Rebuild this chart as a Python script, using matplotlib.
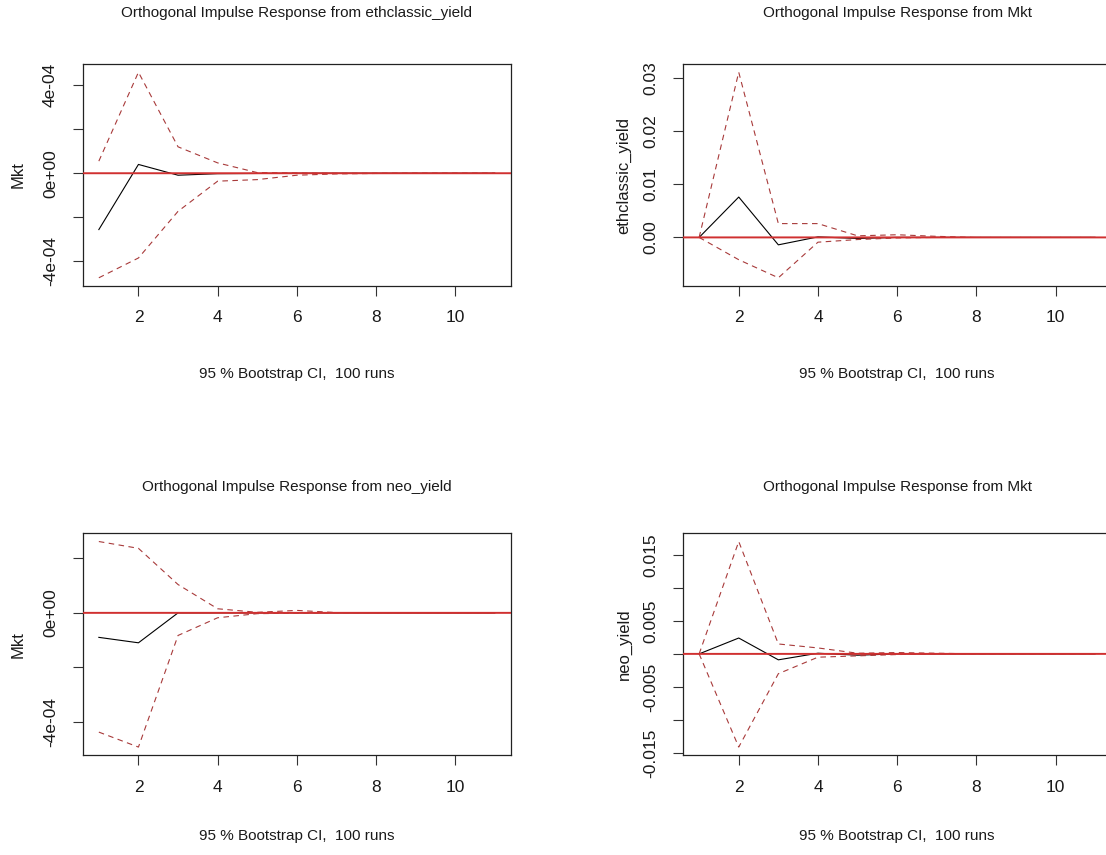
import matplotlib
matplotlib.use("Agg")
import matplotlib.pyplot as plt
import numpy as np

plt.rcParams['font.family'] = ['Liberation Sans', 'DejaVu Sans']

horizon = list(range(1, 12))

# Panel 1: impulse ethclassic_yield -> response Mkt
p1_irf   = [-2.56e-4, 0.40e-4, -0.09e-4, -0.02e-4, -0.01e-4, 0, 0, 0, 0, 0, 0]
p1_upper = [0.55e-4, 4.59e-4, 1.20e-4, 0.47e-4, 0.03e-4, 0.01e-4, 0, 0, 0, 0, 0]
p1_lower = [-4.75e-4, -3.85e-4, -1.73e-4, -0.36e-4, -0.29e-4, -0.09e-4, -0.03e-4, -0.01e-4, 0, 0, 0]

# Panel 2: impulse Mkt -> response ethclassic_yield
p2_irf   = [0.0, 0.0076, -0.0014, 0.0001, -0.0002, 0.0, 0, 0, 0, 0, 0]
p2_upper = [0.0, 0.0311, 0.0026, 0.0026, 0.0003, 0.0005, 0.0002, 0, 0, 0, 0]
p2_lower = [0.0, -0.0042, -0.0076, -0.0009, -0.0004, -0.0001, 0, 0, 0, 0, 0]

# Panel 3: impulse neo_yield -> response Mkt
p3_irf   = [-0.90e-4, -1.10e-4, 0.0, 0, 0, 0, 0, 0, 0, 0, 0]
p3_upper = [2.62e-4, 2.37e-4, 1.04e-4, 0.15e-4, 0.02e-4, 0.09e-4, 0.01e-4, 0, 0, 0, 0]
p3_lower = [-4.38e-4, -4.93e-4, -0.83e-4, -0.18e-4, -0.03e-4, -0.01e-4, 0, 0, 0, 0, 0]

# Panel 4: impulse Mkt -> response neo_yield
p4_irf   = [0.0, 0.0024, -0.0009, 0.0001, -0.0002, 0.0, 0, 0, 0, 0, 0]
p4_upper = [0.0, 0.0170, 0.0015, 0.0009, 0.0001, 0.0002, 0.0001, 0, 0, 0, 0]
p4_lower = [0.0, -0.0141, -0.0030, -0.0005, -0.0003, -0.0001, 0, 0, 0, 0, 0]

titles = ["Orthogonal Impulse Response from ethclassic_yield",
          "Orthogonal Impulse Response from Mkt",
          "Orthogonal Impulse Response from neo_yield",
          "Orthogonal Impulse Response from Mkt"]
ylabels = ["Mkt", "ethclassic_yield", "Mkt", "neo_yield"]
subtitle = "95 % Bootstrap CI,  100 runs"

x_ticks = [2, 4, 6, 8, 10]
p1_yticks = [-4e-4, -2e-4, 0, 2e-4, 4e-4]
p1_ylabels = ["-4e-04", "", "0e+00", "", "4e-04"]
p2_yticks = [0.0, 0.01, 0.02, 0.03]
p2_ylabels = ["0.00", "0.01", "0.02", "0.03"]
p3_yticks = [-4e-4, -2e-4, 0, 2e-4]
p3_ylabels = ["-4e-04", "", "0e+00", ""]
p4_yticks = [-0.015, -0.01, -0.005, 0, 0.005, 0.01, 0.015]
p4_ylabels = ["-0.015", "", "-0.005", "", "0.005", "", "0.015"]

panels = [
    (p1_irf, p1_upper, p1_lower, p1_yticks, p1_ylabels),
    (p2_irf, p2_upper, p2_lower, p2_yticks, p2_ylabels),
    (p3_irf, p3_upper, p3_lower, p3_yticks, p3_ylabels),
    (p4_irf, p4_upper, p4_lower, p4_yticks, p4_ylabels),
]

W, H = 1106, 855
fig = plt.figure(figsize=(W / 100, H / 100), dpi=100)
fig.patch.set_facecolor("white")

# axes boxes in pixels: (left, top, width, height)
boxes = [(83, 64, 427.7, 222), (683.3, 64, 427.7, 222),
         (83, 533.3, 427.7, 222), (683.3, 533.3, 427.7, 222)]
title_y = [13, 13, 487, 487]
sub_y = [374, 374, 836, 836]
ylab_x = [18, 624, 18, 624]

txt_col = "#1a1a1a"
ci_col = "#a83a3a"
zero_col = "#d03030"

for i, (box, (irf, up, lo, yt, ytl)) in enumerate(zip(boxes, panels)):
    l, t, w, h = box
    ax = fig.add_axes([l / W, 1 - (t + h) / H, w / W, h / H])
    ax.plot(horizon, irf, color="black", lw=0.8, zorder=3)
    ax.plot(horizon, up, color=ci_col, lw=0.8, dashes=(5, 4), zorder=3)
    ax.plot(horizon, lo, color=ci_col, lw=0.8, dashes=(5, 4), zorder=3)
    ax.axhline(0, color=zero_col, lw=1.4, zorder=4, snap=False)
    lo_all = min(min(irf), min(up), min(lo))
    hi_all = max(max(irf), max(up), max(lo))
    pad = 0.04 * (hi_all - lo_all)
    ax.set_ylim(lo_all - pad, hi_all + pad)
    ax.set_xlim(0.6, 11.4)
    ax.set_xticks(x_ticks)
    ax.set_xticklabels([str(v) for v in x_ticks])
    ax.set_yticks(yt)
    ax.set_yticklabels(ytl, rotation=90, va="center")
    ax.tick_params(axis="both", direction="out", length=7.5, width=0.8,
                   colors="#333333", labelcolor=txt_col, labelsize=12.5)
    ax.tick_params(axis="x", pad=10)
    ax.tick_params(axis="y", pad=10.5)
    for s in ax.spines.values():
        s.set_linewidth(0.9)
        s.set_color("#222222")
    cx = (l + w / 2) / W
    fig.text(cx, 1 - title_y[i] / H, titles[i], ha="center", va="center",
             fontsize=11, color=txt_col)
    fig.text(cx, 1 - sub_y[i] / H, subtitle, ha="center", va="center",
             fontsize=11, color=txt_col)
    fig.text(ylab_x[i] / W, 1 - (t + h / 2) / H, ylabels[i], ha="center",
             va="center", rotation=90, fontsize=12, color=txt_col)

fig.savefig("out.png", dpi=100)
